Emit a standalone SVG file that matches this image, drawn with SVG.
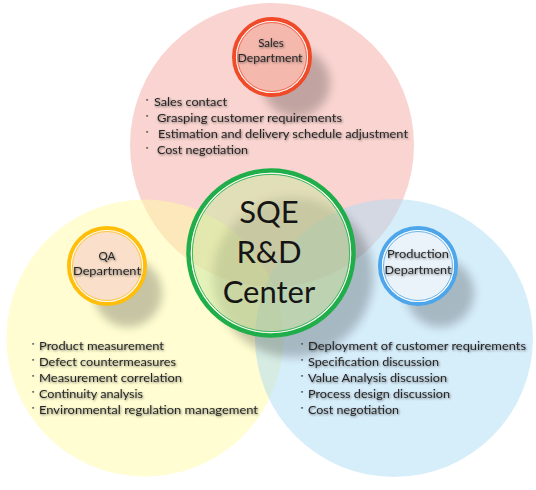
<svg xmlns="http://www.w3.org/2000/svg" width="536" height="490" viewBox="0 0 536 490">
<defs>
<filter id="sh" x="-50%" y="-50%" width="200%" height="200%"><feGaussianBlur stdDeviation="5"/></filter>
<filter id="tsh" x="-10%" y="-50%" width="120%" height="200%"><feDropShadow dx="0.8" dy="1" stdDeviation="0.9" flood-color="#000" flood-opacity="0.5"/></filter>
<style>
.t{font-family:Lato,"Open Sans","Liberation Sans",sans-serif;font-size:11.5px;fill:#262626;filter:url(#tsh)}
.b{font-family:"DejaVu Sans",sans-serif;font-size:6px;fill:#444;text-anchor:middle}
.d{font-family:Lato,"Open Sans","Liberation Sans",sans-serif;font-size:11.5px;fill:#262626;text-anchor:middle;filter:url(#tsh)}
.c{font-family:Lato,"Open Sans","Liberation Sans",sans-serif;font-size:31px;fill:#151515;text-anchor:middle}
.shd{fill:#000;opacity:0.22;filter:url(#sh)}
.gap{fill:none;stroke:#fff;stroke-width:1.2;opacity:.85}
</style>
</defs>
<rect width="536" height="490" fill="#fff"/>
<g id="area-sales"><circle cx="272" cy="145" r="142" fill="#f4a9a1" fill-opacity="0.5"/></g>
<g id="area-qa"><circle cx="145" cy="338" r="138.5" fill="#fffca4" fill-opacity="0.5"/></g>
<g id="area-production"><circle cx="394" cy="338" r="139" fill="#addcf6" fill-opacity="0.5"/></g>

<g id="connectors"></g>

<g id="center">
<circle class="shd" cx="293" cy="277" r="80"/>
<circle cx="271" cy="253" r="82.5" fill="#cde8a4" fill-opacity="0.55" stroke="#1fae4a" stroke-width="4.5"/>
<circle class="gap" cx="271" cy="253" r="79.6"/>
<circle cx="271" cy="253" r="78.6" fill="none" stroke="#3cba5e" stroke-width="1"/>
<text class="c" x="269" y="223">SQE</text>
<text class="c" x="269" y="263">R&amp;D</text>
<text class="c" x="269" y="303">Center</text>
</g>

<g id="sales">
<circle class="shd" cx="296" cy="83" r="34"/>
<circle cx="272" cy="57" r="38" fill="#f4b8ad" stroke="#f04a28" stroke-width="4"/>
<circle class="gap" cx="272" cy="57" r="35.5"/>
<circle cx="272" cy="57" r="34.5" fill="none" stroke="#f26a50" stroke-width="1"/>
<text class="d" x="271" y="47">Sales</text>
<text class="d" x="270" y="62" textLength="65" lengthAdjust="spacingAndGlyphs">Department</text>
</g>

<g id="qa">
<circle class="shd" cx="128" cy="293" r="34"/>
<circle cx="107" cy="266" r="38" fill="#fae0ca" stroke="#ffbe0a" stroke-width="4"/>
<circle class="gap" cx="107" cy="266" r="35.5"/>
<circle cx="107" cy="266" r="34.5" fill="none" stroke="#ffc83a" stroke-width="1"/>
<text class="d" x="107" y="260">QA</text>
<text class="d" x="107" y="275" textLength="68" lengthAdjust="spacingAndGlyphs">Department</text>
</g>

<g id="production">
<circle class="shd" cx="440" cy="293" r="34"/>
<circle cx="418" cy="266" r="38" fill="#eaf3fa" stroke="#4ea6ea" stroke-width="4"/>
<circle class="gap" cx="418" cy="266" r="35.5"/>
<circle cx="418" cy="266" r="34.5" fill="none" stroke="#6bb5ee" stroke-width="1"/>
<text class="d" x="418" y="258" textLength="62" lengthAdjust="spacingAndGlyphs">Production</text>
<text class="d" x="418" y="274" textLength="67" lengthAdjust="spacingAndGlyphs">Department</text>
</g>

<g id="sales-tasks">
<text class="b" x="147" y="102">•</text>
<text class="t" x="154" y="106" textLength="73" lengthAdjust="spacingAndGlyphs">Sales contact</text>
<text class="b" x="147" y="118">•</text>
<text class="t" x="157" y="122" textLength="185" lengthAdjust="spacingAndGlyphs">Grasping customer requirements</text>
<text class="b" x="147" y="133.5">•</text>
<text class="t" x="158" y="137.5" textLength="250" lengthAdjust="spacingAndGlyphs">Estimation and delivery schedule adjustment</text>
<text class="b" x="147" y="150">•</text>
<text class="t" x="157" y="154" textLength="91" lengthAdjust="spacingAndGlyphs">Cost negotiation</text>
</g>

<g id="qa-tasks">
<text class="b" x="33" y="346">•</text>
<text class="t" x="39" y="350" textLength="125" lengthAdjust="spacingAndGlyphs">Product measurement</text>
<text class="b" x="33" y="362">•</text>
<text class="t" x="39" y="366" textLength="137" lengthAdjust="spacingAndGlyphs">Defect countermeasures</text>
<text class="b" x="33" y="378">•</text>
<text class="t" x="39" y="382" textLength="143" lengthAdjust="spacingAndGlyphs">Measurement correlation</text>
<text class="b" x="33" y="394">•</text>
<text class="t" x="39" y="398" textLength="104" lengthAdjust="spacingAndGlyphs">Continuity analysis</text>
<text class="b" x="33" y="410">•</text>
<text class="t" x="39" y="414" textLength="219" lengthAdjust="spacingAndGlyphs">Environmental regulation management</text>
</g>

<g id="production-tasks">
<text class="b" x="302" y="346">•</text>
<text class="t" x="308" y="350" textLength="218" lengthAdjust="spacingAndGlyphs">Deployment of customer requirements</text>
<text class="b" x="302" y="362">•</text>
<text class="t" x="308" y="366" textLength="131" lengthAdjust="spacingAndGlyphs">Specification discussion</text>
<text class="b" x="302" y="378">•</text>
<text class="t" x="308" y="382" textLength="139" lengthAdjust="spacingAndGlyphs">Value Analysis discussion</text>
<text class="b" x="302" y="394">•</text>
<text class="t" x="308" y="398" textLength="142" lengthAdjust="spacingAndGlyphs">Process design discussion</text>
<text class="b" x="302" y="410">•</text>
<text class="t" x="308" y="414" textLength="91" lengthAdjust="spacingAndGlyphs">Cost negotiation</text>
</g>
</svg>
